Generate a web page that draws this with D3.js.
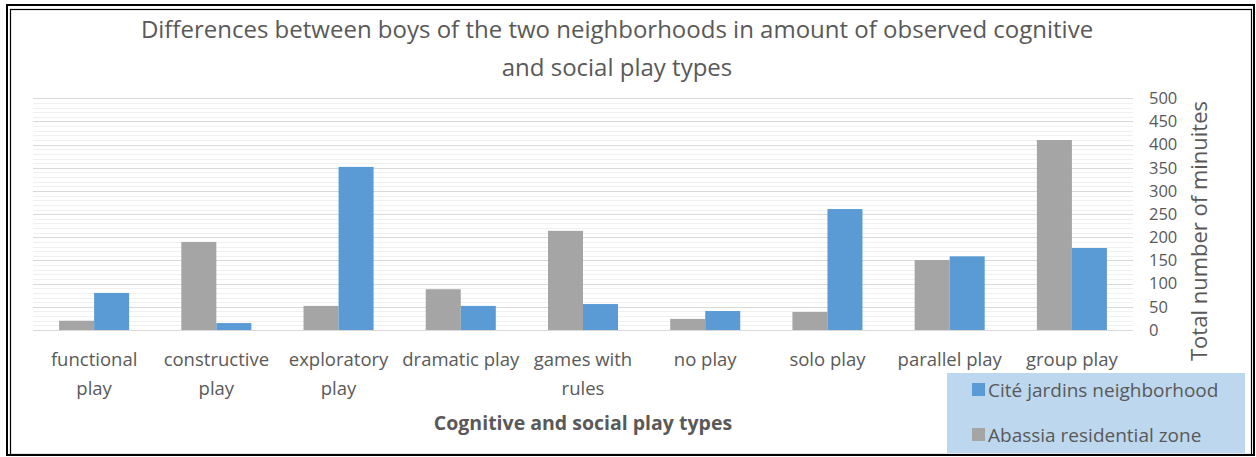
<!DOCTYPE html>
<html>
<head>
<meta charset="utf-8">
<script src="https://cdn.jsdelivr.net/npm/d3@7"></script>
<style>
  html, body { margin: 0; padding: 0; background: #fff; }
  svg { display: block; }
  text { font-family: "Open Sans", "Noto Sans", sans-serif; fill: #595959; }
</style>
</head>
<body>
<svg id="chart" width="1256" height="457"></svg>
<script>
const categories = ["functional play", "constructive play", "exploratory play", "dramatic play",
  "games with rules", "no play", "solo play", "parallel play", "group play"];
const seriesNames = ["Abassia residential zone", "Cité jardins neighborhood"];
const abassiaValues = [20, 190, 52, 88, 214, 24, 39, 151, 410];
const citeValues = [80, 15, 352, 52, 56, 41, 261, 159, 177];
const yTicks = [0, 50, 100, 150, 200, 250, 300, 350, 400, 450, 500];
const titleLines = ["Differences between boys of the two neighborhoods in amount of observed cognitive",
  "and social play types"];
const xTitle = "Cognitive and social play types";
const yTitle = "Total number of minuites";
const colors = { "Abassia residential zone": "#a5a5a5", "Cité jardins neighborhood": "#5b9bd5" };

const FONT = "'Open Sans', 'Noto Sans', sans-serif";
const svg = d3.select("#chart");
const plot = { left: 33, right: 1133, top: 98.3, bottom: 330 };

// frame
svg.append("rect").attr("x", 7).attr("y", 5).attr("width", 1247).attr("height", 450)
  .attr("fill", "none").attr("stroke", "#000").attr("stroke-width", 2);
svg.append("rect").attr("x", 10.5).attr("y", 9.5).attr("width", 1241).attr("height", 445)
  .attr("fill", "none").attr("stroke", "#000").attr("stroke-width", 1.2);

const x = d3.scaleBand().domain(categories).range([plot.left, plot.right])
  .paddingInner(0.427).paddingOuter(0.2135);
const x1 = d3.scaleBand().domain(seriesNames).range([0, x.bandwidth()]);
const y = d3.scaleLinear().domain([0, 500]).range([plot.bottom, plot.top]);

// gridlines
const g = svg.append("g");
g.selectAll("line.minor").data(d3.range(0, 501, 10).filter(v => v % 50 !== 0)).join("line")
  .attr("x1", plot.left).attr("x2", plot.right)
  .attr("y1", d => Math.round(y(d)) + 0.5).attr("y2", d => Math.round(y(d)) + 0.5)
  .attr("stroke", "#f0f0f0").attr("stroke-width", 1);
g.selectAll("line.major").data(yTicks).join("line")
  .attr("x1", plot.left).attr("x2", plot.right)
  .attr("y1", d => Math.round(y(d)) + 0.5).attr("y2", d => Math.round(y(d)) + 0.5)
  .attr("stroke", "#d9d9d9").attr("stroke-width", 1);

// bars
const data = categories.map((c, i) => ({ cat: c, vals: [
  { s: seriesNames[0], v: abassiaValues[i] }, { s: seriesNames[1], v: citeValues[i] }] }));
const groups = svg.append("g").selectAll("g").data(data).join("g")
  .attr("transform", d => `translate(${x(d.cat)},0)`);
groups.selectAll("rect").data(d => d.vals).join("rect")
  .attr("x", d => x1(d.s)).attr("width", x1.bandwidth())
  .attr("y", d => y(d.v)).attr("height", d => y(0) - y(d.v))
  .attr("fill", d => colors[d.s]);

// y axis (right side, labels only)
const yAxis = d3.axisRight(y).tickValues(yTicks).tickSize(0).tickPadding(0);
const ya = svg.append("g").attr("transform", `translate(1149,0)`).call(yAxis);
ya.select(".domain").remove();
ya.selectAll("text").attr("font-size", 16.5).attr("fill", "#595959")
  .style("font-family", FONT).attr("text-anchor", "start");

// x axis labels with wrapping
const xAxis = d3.axisBottom(x).tickSize(0).tickPadding(0);
const xa = svg.append("g").attr("transform", `translate(0,${plot.bottom})`).call(xAxis);
xa.select(".domain").remove();
xa.selectAll("text").attr("font-size", 18.5).attr("fill", "#595959")
  .style("font-family", FONT)
  .each(function(d) {
    const t = d3.select(this);
    const words = d.split(" ");
    t.text(null).attr("y", 0).attr("dy", null);
    const maxW = 121;
    let lines = [], cur = [];
    const tmp = t.append("tspan");
    words.forEach(w => {
      const test = cur.concat([w]).join(" ");
      tmp.text(test);
      if (tmp.node().getComputedTextLength() > maxW && cur.length) { lines.push(cur.join(" ")); cur = [w]; }
      else cur.push(w);
    });
    lines.push(cur.join(" "));
    tmp.remove();
    lines.forEach((l, i) => t.append("tspan").attr("x", 0).attr("y", 36 + i * 29).text(l));
  });

// titles
svg.append("g").selectAll("text").data(titleLines).join("text")
  .attr("x", 617).attr("y", (d, i) => 38 + i * 38).attr("text-anchor", "middle")
  .attr("font-size", 24).text(d => d);
svg.append("text").attr("x", 583).attr("y", 430).attr("text-anchor", "middle")
  .attr("font-size", 19.5).attr("font-weight", "bold").text(xTitle);
svg.append("text").attr("transform", "translate(1207,231) rotate(-90)")
  .attr("text-anchor", "middle").attr("font-size", 22).text(yTitle);

// legend
const leg = svg.append("g");
leg.append("rect").attr("x", 947).attr("y", 373).attr("width", 298).attr("height", 80).attr("fill", "#bdd7ee");
const legItems = [seriesNames[1], seriesNames[0]];
const li = leg.selectAll("g").data(legItems).join("g")
  .attr("transform", (d, i) => `translate(972,${390 + i * 45})`);
li.append("rect").attr("x", 0).attr("y", -7).attr("width", 13).attr("height", 13).attr("fill", d => colors[d]);
li.append("text").attr("x", 16).attr("y", 0).attr("dy", "0.35em").attr("font-size", 19).text(d => d);
</script>
</body>
</html>
